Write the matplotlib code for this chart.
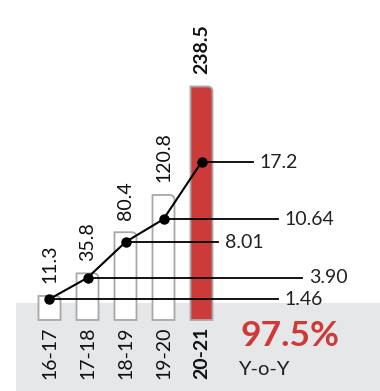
import matplotlib
matplotlib.use('agg')
import matplotlib.pyplot as plt
from matplotlib.path import Path
from matplotlib.patches import PathPatch, Rectangle

plt.rcParams['font.family'] = ['Lato', 'DejaVu Sans']

seasons = ["16-17", "17-18", "18-19", "19-20", "20-21"]
bar_values = [11.3, 35.8, 80.4, 120.8, 238.5]
bar_labels = ["11.3", "35.8", "80.4", "120.8", "238.5"]
line_values = [1.46, 3.90, 8.01, 10.64, 17.2]
line_labels = ["1.46", "3.90", "8.01", "10.64", "17.2"]
growth_text = "97.5%"
growth_caption = "Y-o-Y"

# layout (pixel based, figure is 380x391)
leader_end_px = [278, 302, 218, 278, 253]
RED = "#cc3a3a"
EDGE = "#a8a8a8"
BAND = "#e6e7e9"

fig = plt.figure(figsize=(3.8, 3.91), dpi=100)
ax = fig.add_axes([0, 0, 1, 1])
ax.set_xlim(-49.5 / 38, (380 - 49.5) / 38)
ax.set_ylim(-91.8, 332.3)
ax.axis('off')

# grey band at the bottom
ax.add_patch(Rectangle((16 / 380, 0), 1, 88 / 391, transform=ax.transAxes,
                       facecolor=BAND, edgecolor='none', zorder=0))

bar_w = 22 / 38
base = -14.75
rx = 5 / 38
ry = 5 / 0.922
for i, v in enumerate(bar_values):
    x0, x1 = i - bar_w / 2, i + bar_w / 2
    verts = [(x0, base), (x0, v), (x1 - rx, v), (x1, v), (x1, v - ry), (x1, base), (x0, base)]
    codes = [Path.MOVETO, Path.LINETO, Path.LINETO, Path.CURVE3, Path.CURVE3,
             Path.LINETO, Path.CLOSEPOLY]
    last = i == len(bar_values) - 1
    ax.add_patch(PathPatch(Path(verts, codes), facecolor=RED if last else 'white',
                           edgecolor=EDGE, lw=1.3, zorder=1))
    ax.annotate(bar_labels[i], (i, v), xytext=(0, 9), textcoords='offset points',
                rotation=90, ha='center', va='bottom', fontsize=14,
                fontweight='bold' if last else 'normal', color='#111111')
    ax.annotate(seasons[i], (i, base), xytext=(0, -5), textcoords='offset points',
                rotation=90, ha='center', va='top', fontsize=14,
                fontweight='bold' if last else 'normal', color='#111111')

# growth line on its own scale
ax2 = ax.twinx()
ax2.set_ylim(-9.11, 35.83)
ax2.axis('off')
xs = list(range(len(line_values)))
ax2.plot(xs, line_values, color='black', lw=1.5, marker='o', ms=6.5, zorder=5)
for i, v in enumerate(line_values):
    xe = (leader_end_px[i] - 49.5) / 38
    ax2.plot([i, xe], [v, v], color='black', lw=1.3, zorder=4)
    ax2.annotate(line_labels[i], (xe, v), xytext=(5, 0), textcoords='offset points',
                 ha='left', va='center', fontsize=14, color='#222222')

ax.text(240 / 380, 45 / 391, growth_text, transform=ax.transAxes, ha='left',
        va='baseline', fontsize=25.5, fontweight='bold', color=RED)
ax.text(238 / 380, 16 / 391, growth_caption, transform=ax.transAxes, ha='left',
        va='baseline', fontsize=14.5, color='#222222')

fig.savefig("out.png", dpi=100)
